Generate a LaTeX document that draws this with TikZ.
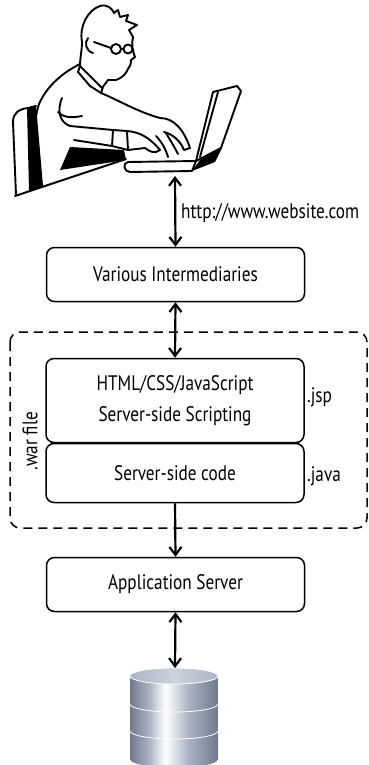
\documentclass[tikz,border=0pt]{standalone}
\usepackage{fontspec}
\setmainfont[FakeStretch=0.82]{PT Sans}
\usetikzlibrary{arrows.meta}

\definecolor{dbdark}{RGB}{112,122,142}
\definecolor{dbmid}{RGB}{172,180,196}
\definecolor{dbtop}{RGB}{205,210,220}
\pgfdeclarehorizontalshading{drum}{100bp}{color(0bp)=(dbdark); color(25bp)=(dbdark); color(36bp)=(dbmid); color(45bp)=(white); color(58bp)=(dbmid); color(75bp)=(dbdark); color(100bp)=(dbdark)}

\begin{document}
\begin{tikzpicture}[x=1pt,y=-1pt]

    % Styles
    \tikzset{
      box/.style={draw, line width=1.5pt, rounded corners=8pt, minimum width=258pt, align=center, font=\fontsize{21}{31}\selectfont},
      tag/.style={font=\fontsize{21}{24}\selectfont, inner sep=1pt},
      link/.style={line width=2.2pt, {Straight Barb[length=8pt,width=12pt]}-{Straight Barb[length=8pt,width=12pt]}},
      down/.style={line width=2.2pt, -{Straight Barb[length=8pt,width=12pt]}},
      man/.style={line width=1.9pt, line join=round, line cap=round}
    }
    \useasboundingbox (0,0) rectangle (369,765);

    % Person at the laptop
    \fill (27,108) -- (36,105) -- (43,186) -- (29,191) -- cycle;
    \draw[man] (16,195) -- (13,122) .. controls (13,113) and (19,109) .. (28,108) -- (36,106);
    \fill (70,147) -- (124,150) -- (126,160) -- (60,170) -- cycle;
    \draw[man] (80,64) .. controls (60,74) and (46,88) .. (39,104) .. controls (33,122) and (32,155) .. (38,187);
    \draw[man] (15,196) -- (126,159);
    \draw[man,fill=white] (82,42) .. controls (79,26) and (88,10) .. (100,6) .. controls (107,4) and (112,8) .. (114,13)
      -- (118,10) -- (120,17) -- (128,15) -- (126,21) -- (137,25) -- (129,30) -- (133,37)
      .. controls (131,44) and (133,52) .. (135,57) -- (131,60) .. controls (131,64) and (130,67) .. (128,69)
      .. controls (126,73) and (124,77) .. (116,80) -- (108,80) -- (102,88) -- (80,66) .. controls (80,58) and (82,50) .. (82,42) -- cycle;
    \draw[man] (88,38) .. controls (84,43) and (86,51) .. (93,53);
    \draw[man] (116,49) circle (5pt) (128,49) circle (4.5pt);
    \draw[man] (121,49) -- (123.5,49) (111,48) -- (94,42);
    \draw[man] (80,66) -- (78,72) -- (90,86) -- (101,93) -- (103,87);
    \draw[man] (101,93) .. controls (118,100) and (138,112) .. (160,118)
      .. controls (174,118) and (184,130) .. (190,148) -- (184,150) .. controls (180,140) and (172,134) .. (164,132);
    \draw[man] (166,133) .. controls (170,140) and (174,146) .. (178,154);
    \draw[man] (156,136) .. controls (162,142) and (166,150) .. (168,157);
    \draw[man] (62,98) .. controls (57,110) and (59,122) .. (70,126) -- (113,130) -- (127,131)
      .. controls (140,132) and (150,138) .. (160,150) .. controls (155,154) and (150,152) .. (145,148) -- (128,150) -- (112,146) -- (74,140);
    \draw[man] (113,130) -- (112,146) (127,131) -- (128,150);
    \draw[man] (58,112) .. controls (64,118) and (72,118) .. (82,116);
    % laptop
    \fill (222,148) -- (215,162) -- (192,171) -- (200,160) -- cycle;
    \draw[man,fill=white] (213,92) -- (237,86) -- (241,91) -- (221,148) -- (196,161) -- cycle;
    \draw[man] (218,92) -- (200,157);
    \draw[man,fill=white] (128,162) -- (196,161) -- (192,171) -- (130,172) .. controls (124,172) and (122,163) .. (128,162) -- cycle;

    % Boxes
    \node (inter) [box, minimum height=54pt] at (175.5,274.5) {Various Intermediaries};
    \node (html) [box, minimum height=84pt] at (175,400.5) {HTML/CSS/JavaScript\\Server-side Scripting};
    \node (code) [box, minimum height=59pt] at (175,473) {Server-side code};
    \node (app) [box, minimum height=54pt] at (175.5,584.5) {Application Server};
    \draw[line width=1.5pt, dashed, dash pattern=on 9pt off 6pt, rounded corners=10pt] (10,332) rectangle (367,528);

    % Labels
    \node (url) [tag, anchor=west] at (180,213) {http://www.website.com};
    \node (jsp) [tag, anchor=west] at (306,397) {.jsp};
    \node (java) [tag, anchor=west] at (306,476) {.java};
    \node (war) [tag, rotate=90] at (30,441) {.war file};

    % Database
    \foreach \t/\b in {730/760, 703/731, 676/704} {
      \shade[shading=drum] (130,\t) -- (130,\b) arc[start angle=180, end angle=360, x radius=44pt, y radius=8pt] -- (218,\t) -- cycle;
      \draw[white, line width=0.8pt] (130,\b) arc[start angle=180, end angle=360, x radius=44pt, y radius=8pt];
    }
    \shade[left color=dbmid, right color=dbmid, middle color=dbtop] (174,676) ellipse[x radius=44pt, y radius=8pt];
    \draw[white, line width=0.8pt] (174,676) ellipse[x radius=44pt, y radius=8pt];
    \coordinate (db) at (175,668);
    \coordinate (laptop) at (175,176);

    % Arrows
    \draw[link] (laptop) -- (inter.north);
    \draw[link] (inter.south) -- (html.north);
    \draw[down] (code.south) -- (app.north);
    \draw[link] (app.south) -- (db);

\end{tikzpicture}
\end{document}
